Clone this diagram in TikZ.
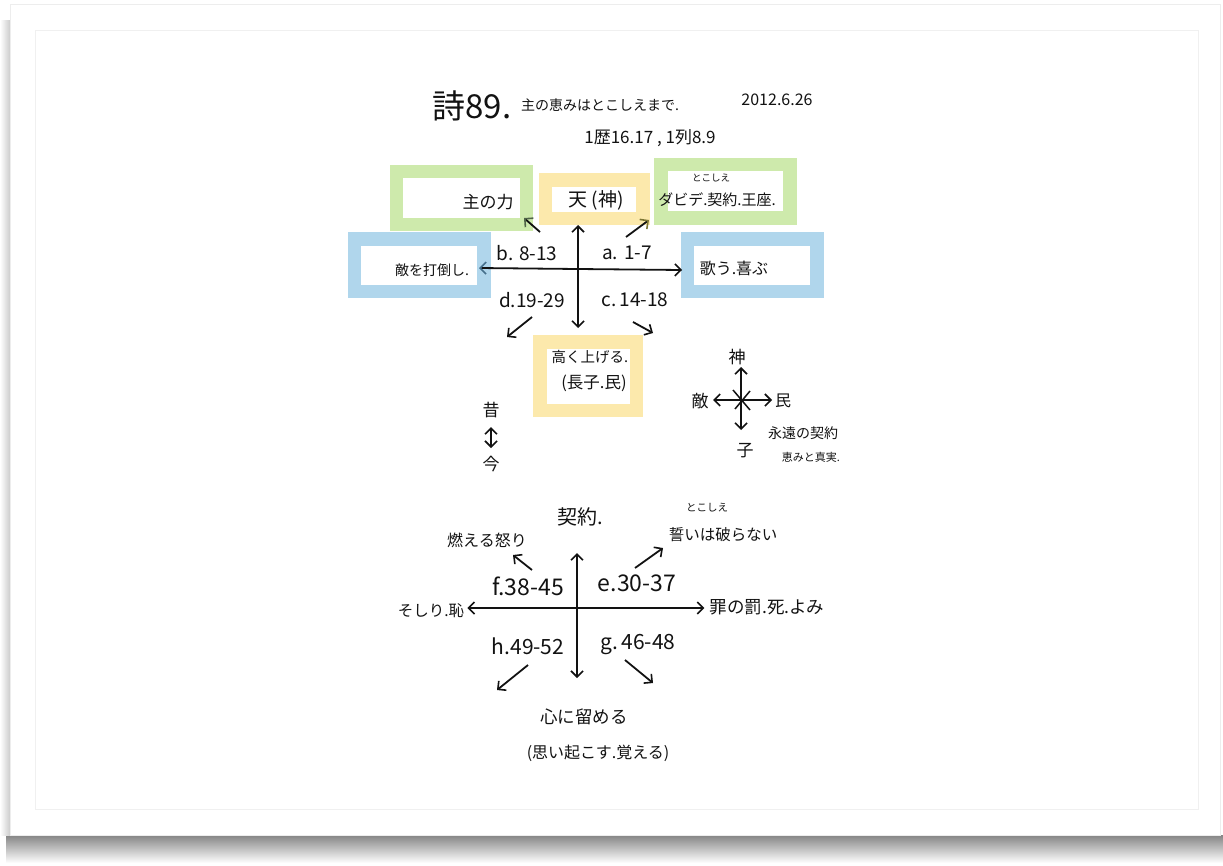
\documentclass[tikz,border=0pt]{standalone}
\usepackage{fontspec}
\newfontfamily\jp{Noto Sans CJK JP}
\usetikzlibrary{arrows.meta}
\definecolor{boxgreen}{RGB}{206,234,172}
\definecolor{boxyellow}{RGB}{252,233,172}
\definecolor{boxblue}{RGB}{176,214,236}
\definecolor{ink}{RGB}{18,18,18}
\definecolor{tipblue}{RGB}{70,112,140}
\definecolor{tipolive}{RGB}{125,118,52}
\definecolor{tipgreen}{RGB}{80,100,72}
\newcommand\fsz[1]{\fontsize{#1}{#1}\selectfont}
\tikzset{
  colbox/.style={draw=#1, line width=13.5pt, inner sep=0pt, fill=white},
  txt/.style={font=\jp\fsz{#1}, text=ink, inner sep=0pt},
  barb/.tip={Straight Barb[length=6pt,width=12pt,line width=1.6pt]},
  arr/.style={draw=ink, line width=1.8pt, -barb},
  darr/.style={draw=ink, line width=1.6pt, barb-barb},
}
\begin{document}
\begin{tikzpicture}[x=1pt,y=-1pt]
\useasboundingbox (0,0) rectangle (1223,865);

% sheet with its drop shadow
\fill[white] (0,0) rectangle (1223,865);
\shade[top color=black!48, bottom color=white] (6,835) rectangle (1223,863);
\shade[left color=white, right color=black!22] (0,20) rectangle (11,835);
\fill[white] (10,4) rectangle (1220,835);
\draw[black!7, line width=0.8pt] (10,4) rectangle (1220,835);
\draw[black!6, line width=1pt] (35,30) rectangle (1198,809);

% heading
\node[txt=33] (tnum) at (472,106) {詩89.};
\node[txt=14] (tsub) at (600,105) {主の恵みはとこしえまで.};
\node[txt=16] (tdate) at (777,100) {2012.6.26};
\node[txt=17] (tref) at (650,138) {1歴16.17 , 1列8.9};

% coloured frames of the upper chart
\node[colbox=boxgreen, minimum width=130pt, minimum height=53pt] (lord) at (461.5,198) {};
\node[colbox=boxyellow, minimum width=97.5pt, minimum height=38.5pt] (heaven) at (594,199) {};
\node[colbox=boxgreen, minimum width=129pt, minimum height=53.5pt] (david) at (725.5,191) {};
\node[colbox=boxblue, minimum width=129.5pt, minimum height=52.5pt] (enemy) at (419,265) {};
\node[colbox=boxblue, minimum width=129.5pt, minimum height=52.5pt] (song) at (752,265) {};
\node[colbox=boxyellow, minimum width=96.5pt, minimum height=68.5pt] (exalt) at (588,376) {};

% texts inside the frames
\node[txt=17] (lordt) at (488,202) {主の力};
\node[txt=19] (heavent) at (596,200) {天 (神)};
\node[txt=15] (davidt) at (717,200) {ダビデ.契約.王座.};
\node[txt=9.5] (ruby1) at (711,178) {とこしえ};
\node[txt=14] (enemyt) at (432,270) {敵を打倒し.};
\node[txt=16] (songt) at (734,268) {歌う.喜ぶ};
\node[txt=14.5] (exalt1) at (590,357) {高く上げる.};
\node[txt=16.5] (exalt2) at (594,383) {(長子.民)};

% upper cross and its quadrant labels
\coordinate (c1) at (578,269);
\coordinate (c1u) at (578,225);
\coordinate (c1d) at (578,328);
\coordinate (c1l) at (479,268);
\coordinate (c1r) at (682,270);
\draw[arr] (c1) -- (c1u);
\draw[arr] (c1) -- (c1d);
\draw[draw=ink, line width=1.8pt, -{Straight Barb[length=6pt,width=12pt,line width=1.6pt,color=tipblue]}] (c1) -- (c1l);
\draw[arr] (c1) -- (c1r);
\node[txt=19] (qb) at (527,253) {b. 8-13};
\node[txt=19] (qa) at (627,253) {a.\,\,1-7};
\node[txt=19] (qd) at (532,300) {d.19-29};
\node[txt=19] (qc) at (635,300) {c.\,14-18};

\coordinate (a1s) at (540,232); \coordinate (a1e) at (524,218);
\coordinate (a2s) at (626,237); \coordinate (a2e) at (649,220);
\coordinate (a3s) at (532,317); \coordinate (a3e) at (507,337);
\coordinate (a4s) at (633,322); \coordinate (a4e) at (653,333);
\draw[draw=ink, line width=1.8pt, -{Straight Barb[length=6pt,width=12pt,line width=1.6pt,color=tipgreen]}] (a1s) -- (a1e);
\draw[draw=ink, line width=1.8pt, -{Straight Barb[length=6pt,width=12pt,line width=1.6pt,color=tipolive]}] (a2s) -- (a2e);
\draw[arr] (a3s) -- (a3e);
\draw[arr] (a4s) -- (a4e);

% past and present
\node[txt=17] (past) at (491,410) {昔};
\node[txt=17] (now) at (491,464) {今};
\coordinate (pn1) at (491,427);
\coordinate (pn2) at (491,448);
\draw[darr] (pn1) -- (pn2);

% small compass of relations
\coordinate (c2) at (741,400);
\node[txt=17] (god) at (737,357) {神};
\node[txt=17] (foe) at (700,401) {敵};
\node[txt=16] (people) at (783,401) {民};
\node[txt=17] (son) at (745,451) {子};
\coordinate (c2u) at (741,367);
\coordinate (c2d) at (741,430);
\coordinate (c2l) at (713,400);
\coordinate (c2r) at (772,400);
\draw[arr] (c2) -- (c2u);
\draw[arr] (c2) -- (c2d);
\draw[arr] (c2) -- (c2l);
\draw[arr] (c2) -- (c2r);
\draw[ink, line width=1.5pt] (733,390) -- (750,410) (735,409) -- (750,391);
\node[txt=14] (cov) at (803,433) {永遠の契約};
\node[txt=11] (grace) at (811,457) {恵みと真実.};

% lower cross
\coordinate (c3) at (577,608);
\node[txt=20] (covenant) at (580,517) {契約.};
\node[txt=10.5] (ruby2) at (707,508) {とこしえ};
\node[txt=15.5] (oath) at (723,535) {誓いは破らない};
\node[txt=16] (wrath) at (487,540) {燃える怒り};
\node[txt=15.5] (shame) at (431,611) {そしり.恥};
\node[txt=17.5] (sin) at (767,607) {罪の罰.死.よみ};
\node[txt=17.5] (heart) at (584,717) {心に留める};
\node[txt=16] (recall) at (598,753) {(思い起こす.覚える)};

\node[txt=23] (qf) at (528,586) {f.38-45};
\node[txt=23] (qe) at (637,583) {e.30-37};
\node[txt=21] (qh) at (528,646) {h.49-52};
\node[txt=21] (qg) at (638,644) {g.\,46-48};

\coordinate (c3u) at (577,553);
\coordinate (c3d) at (577,678);
\draw[arr] (c3) -- (c3u);
\draw[arr] (c3) -- (c3d);
\draw[arr, shorten >=3pt] (c3) -- (shame.east |- c3);
\draw[arr, shorten >=5pt] (c3) -- (sin.west |- c3);

\coordinate (b1s) at (532,570); \coordinate (b1e) at (513,555);
\coordinate (b2s) at (635,568); \coordinate (b2e) at (663,548);
\coordinate (b3s) at (528,665); \coordinate (b3e) at (497,690);
\coordinate (b4s) at (625,660); \coordinate (b4e) at (653,683);
\draw[arr] (b1s) -- (b1e);
\draw[arr] (b2s) -- (b2e);
\draw[arr] (b3s) -- (b3e);
\draw[arr] (b4s) -- (b4e);
\end{tikzpicture}
\end{document}
